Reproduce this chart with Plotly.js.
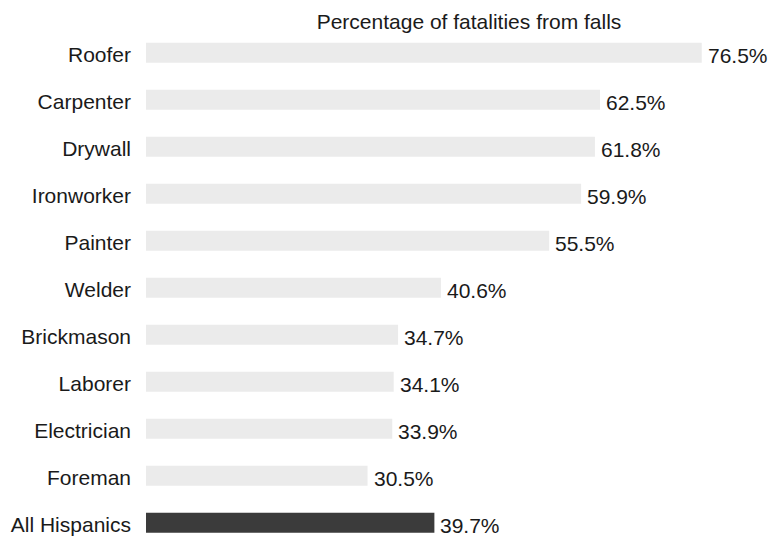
<!DOCTYPE html>
<html>
<head>
<meta charset="utf-8">
<script src="https://cdn.plot.ly/plotly-3.0.1.min.js"></script>
<style>html,body{margin:0;padding:0;background:#fff;}#chart{width:770px;height:539px;}</style>
</head>
<body>
<div id="chart"></div>
<script>
var categories = ["Roofer", "Carpenter", "Drywall", "Ironworker", "Painter", "Welder", "Brickmason", "Laborer", "Electrician", "Foreman", "All Hispanics"];
var values = [76.5, 62.5, 61.8, 59.9, 55.5, 40.6, 34.7, 34.1, 33.9, 30.5, 39.7];
var valueLabels = ["76.5%", "62.5%", "61.8%", "59.9%", "55.5%", "40.6%", "34.7%", "34.1%", "33.9%", "30.5%", "39.7%"];
var titleText = "Percentage of fatalities from falls";

var FONT = "Liberation Sans, Arial, sans-serif";
var barColors = categories.map(function (c) { return c === "All Hispanics" ? "#3b3b3b" : "#ebebeb"; });

var trace = {
  type: "bar",
  orientation: "h",
  x: values,
  y: categories,
  marker: {color: barColors, line: {width: 0}},
  hoverinfo: "none"
};

var annotations = values.map(function (v, i) {
  return {
    x: v, y: categories[i], xref: "x", yref: "y",
    text: valueLabels[i], showarrow: false,
    xanchor: "left", yanchor: "middle",
    xshift: 4, yshift: -3,
    font: {family: FONT, size: 21, color: "#1a1a1a"}
  };
});

var layout = {
  width: 770,
  height: 539,
  margin: {l: 146, r: 0, t: 25, b: 0},
  paper_bgcolor: "#ffffff",
  plot_bgcolor: "#ffffff",
  showlegend: false,
  bargap: 0.574,
  font: {family: FONT, size: 21, color: "#1a1a1a"},
  title: {
    text: titleText,
    font: {family: FONT, size: 21, color: "#1a1a1a"},
    xref: "container", yref: "container",
    x: 469 / 770, xanchor: "center",
    y: 1 - 22 / 539, yanchor: "middle"
  },
  annotations: annotations,
  xaxis: {
    range: [0, 85.9],
    showgrid: false, zeroline: false, showline: false,
    showticklabels: false, ticks: ""
  },
  yaxis: {
    type: "category",
    categoryorder: "array",
    categoryarray: categories,
    range: [10.347, -0.589],
    showgrid: false, zeroline: false, showline: false,
    ticks: "",
    ticklabelstandoff: 14,
    ticklabelshift: -2,
    tickfont: {family: FONT, size: 21, color: "#1a1a1a"}
  }
};

Plotly.newPlot("chart", [trace], layout, {displayModeBar: false, staticPlot: true});
</script>
</body>
</html>
